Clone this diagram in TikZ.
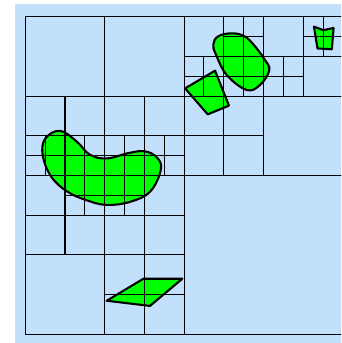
\documentclass[tikz,border=0pt]{standalone}
\usepackage{tikz}
\definecolor{qtblue}{RGB}{194,224,252}
\definecolor{qtgreen}{RGB}{0,255,0}
\begin{document}
\begin{tikzpicture}[scale=.5,line cap=round,line join=round,
  cell/.style={draw=black,line width=.75pt},
  region/.style={fill=qtgreen,draw=black,line width=1.5pt}]
  \useasboundingbox (-1.275,-0.438) rectangle (15.904,16.841);
  \clip (-1.275,-0.438) rectangle (15.904,16.841);
  \fill[qtblue] (-0.52,-0.6) rectangle (16.2,16.64);
  \draw[region] plot[smooth cycle,tension=.65] coordinates {(1.75,10.25) (1.0,9.85) (0.88,9.0) (1.3,7.95) (2.1,7.2) (3.1,6.75) (4.1,6.52) (5.3,6.68) (6.3,7.2) (6.83,8.3) (6.62,8.92) (6.0,9.22) (5.2,9.13) (4.1,8.86) (3.25,9.05) (2.6,9.7)};
  \draw[region] plot[smooth cycle,tension=.65] coordinates {(10.31,15.16) (9.7,15.0) (9.47,14.6) (9.6,14.1) (10.15,13.06) (11.15,12.31) (11.82,12.56) (12.29,13.3) (12.05,13.85) (11.45,14.65) (10.95,15.06)};
  \draw[region] (8.05,12.39) coordinate (Q1) -- (9.56,13.28) coordinate (Q2) -- (10.26,11.52) coordinate (Q3) -- (9.19,11.08) coordinate (Q4) -- cycle;
  \draw[region] (14.54,15.5) -- (15.01,15.32) -- (15.53,15.43) -- (15.44,14.36) -- (14.72,14.4) -- cycle;
  \draw[region] (4.1,1.69) -- (5.95,2.8) -- (7.91,2.8) -- (6.28,1.43) -- cycle;
  \foreach \x/\y/\s in {0/12/4,4/12/4,0/10/2,2/10/2,4/10/2,6/10/2,
      0/0/4,0/6/2,0/4/2,2/4/2,4/4/2,6/4/2,6/6/2,4/2/2,6/2/2,4/0/2,6/0/2,
      8/14/2,12/14/2,14/12/2,8/10/2,10/10/2,8/8/2,10/8/2,12/8/4,8/0/8}
    \draw[cell] (\x,\y) rectangle ++(\s,\s);
  \foreach \x/\y in {0/9,1/9,0/8,1/8,2/9,3/9,2/8,3/8,4/9,5/9,4/8,5/8,6/9,7/9,6/8,7/8,
      2/7,3/7,2/6,3/6,4/7,5/7,4/6,5/6,
      10/15,11/15,10/14,11/14,8/13,9/13,8/12,9/12,10/13,11/13,10/12,11/12,
      14/15,15/15,14/14,15/14,12/13,13/13,12/12,13/12}
    \draw[cell] (\x,\y) rectangle ++(1,1);
\end{tikzpicture}
\end{document}
